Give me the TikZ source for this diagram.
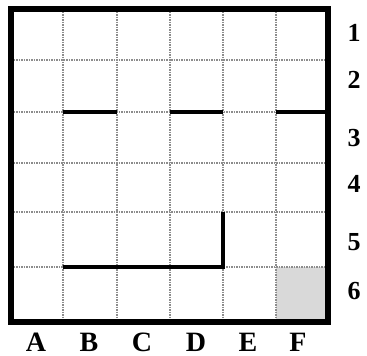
\documentclass[tikz,border=0pt]{standalone}
\usepackage{fontspec}
\setmainfont{Liberation Serif}
\begin{document}
\begin{tikzpicture}[x=1pt,y=-1pt,
  gridline/.style={draw=black!45,line width=1.2pt,dash pattern=on 1.5pt off 1pt},
  frame/.style={draw=black,line width=6.5pt},
  wall/.style={draw=black,line width=4.5pt},
  rowlab/.style={font=\bfseries\fontsize{26}{26}\selectfont,anchor=center},
  collab/.style={font=\bfseries\fontsize{28}{28}\selectfont,anchor=center}]
\useasboundingbox (0,0) rectangle (367,356);
% shaded cell F6
\fill[black!15] (276,267) rectangle (328,322);
% grid
\foreach \x in {63,117,170,223,276} \draw[gridline] (\x,9) -- (\x,322);
\foreach \y in {60,112,163,212,267} \draw[gridline] (11,\y) -- (328,\y);
% walls
\draw[wall] (63,112) -- (117,112);
\draw[wall] (170,112) -- (223,112);
\draw[wall] (276,112) -- (328,112);
\draw[wall] (223,212) -- (223,267) -- (63,267);
% frame
\draw[frame] (11,9) rectangle (328,322);
% row labels
\node[rowlab] (r1) at (354,33) {1};
\node[rowlab] (r2) at (354,80) {2};
\node[rowlab] (r3) at (354,138) {3};
\node[rowlab] (r4) at (354,184) {4};
\node[rowlab] (r5) at (354,242) {5};
\node[rowlab] (r6) at (354,291) {6};
% column labels
\node[collab] (cA) at (36,342) {A};
\node[collab] (cB) at (89,342) {B};
\node[collab] (cC) at (142,342) {C};
\node[collab] (cD) at (196,342) {D};
\node[collab] (cE) at (248,342) {E};
\node[collab] (cF) at (298,342) {F};
\end{tikzpicture}
\end{document}
